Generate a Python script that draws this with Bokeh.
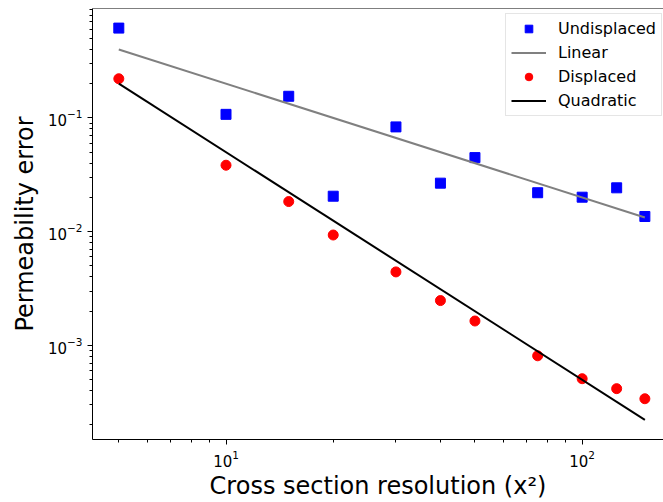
from bokeh.plotting import figure
from bokeh.models import Range1d, Span, Legend, LegendItem, FixedTicker, LogTickFormatter
from bokeh.embed import file_html
from bokeh.resources import INLINE

# Cross-section resolution (x^2) and permeability errors
resolution = [5, 10, 15, 20, 30, 40, 50, 75, 100, 125, 150]
undisplaced = [0.616, 0.1075, 0.155, 0.0205, 0.0834, 0.0267, 0.0448, 0.0220, 0.0201, 0.0243, 0.0136]
displaced = [0.221, 0.0384, 0.0184, 0.00935, 0.00443, 0.00248, 0.00164, 0.000811, 0.000510, 0.000417, 0.000340]

# Reference slopes (first and second order) at the ends of the resolution range
fit_x = [5, 150]
linear_fit = [0.40, 0.01333]
quadratic_fit = [0.20, 0.000222]

# Decade ticks and the 2..9 minor ticks between them
x_major = [10, 100]
x_minor = [5, 6, 7, 8, 9, 20, 30, 40, 50, 60, 70, 80, 90]
y_major = [1e-3, 1e-2, 1e-1]
y_minor = [m * d for d in (1e-4, 1e-3, 1e-2, 1e-1) for m in range(2, 10)]

FONT = "DejaVu Sans"

p = figure(
    width=663, height=502,
    x_axis_type="log", y_axis_type="log",
    x_range=Range1d(4.218, 169.2), y_range=Range1d(1.49e-4, 0.916),
    output_backend="svg", toolbar_location=None,
    min_border=0, min_border_left=92, min_border_top=8,
    min_border_bottom=63, min_border_right=0,
)
p.background_fill_color = "white"
p.border_fill_color = "white"
p.outline_line_color = None
p.grid.visible = False

# top spine
p.add_layout(Span(location=0.916, dimension="width", line_color="black", line_width=1))

r_und = p.scatter(resolution, undisplaced, marker="square", size=10,
                  fill_color="blue", line_color="blue")
r_lin = p.line(fit_x, linear_fit, line_color="grey", line_width=2)
r_dis = p.scatter(resolution, displaced, marker="circle", size=10,
                  fill_color="red", line_color="red")
r_quad = p.line(fit_x, quadratic_fit, line_color="black", line_width=2)

p.xaxis[0].ticker = FixedTicker(ticks=x_major, minor_ticks=x_minor)
p.yaxis[0].ticker = FixedTicker(ticks=y_major, minor_ticks=y_minor)

for ax in (p.xaxis[0], p.yaxis[0]):
    ax.formatter = LogTickFormatter()
    ax.axis_line_color = "black"
    ax.axis_line_width = 1
    ax.major_tick_in = 0
    ax.major_tick_out = 5
    ax.minor_tick_in = 0
    ax.minor_tick_out = 3
    ax.major_tick_line_color = "black"
    ax.minor_tick_line_color = "black"
    ax.major_label_text_font = FONT
    ax.major_label_text_font_size = "15px"
    ax.major_label_text_color = "black"
    ax.major_label_standoff = 5
    ax.axis_label_text_font = FONT
    ax.axis_label_text_font_size = "24px"
    ax.axis_label_text_font_style = "normal"
    ax.axis_label_text_color = "black"

p.xaxis.axis_label = "Cross section resolution (x\u00b2)"
p.yaxis.axis_label = "Permeability error"
p.xaxis.axis_label_standoff = 2
p.yaxis.axis_label_standoff = 6

legend = Legend(
    items=[
        LegendItem(label="Undisplaced", renderers=[r_und]),
        LegendItem(label="Linear", renderers=[r_lin]),
        LegendItem(label="Displaced", renderers=[r_dis]),
        LegendItem(label="Quadratic", renderers=[r_quad]),
    ],
    location=(413, 323),
    padding=5, spacing=5, margin=0,
    glyph_width=35, glyph_height=19, label_height=19,
    label_standoff=12,
    label_text_font=FONT, label_text_font_size="16px", label_text_color="black",
    border_line_color="#cccccc", border_line_width=1,
    background_fill_color="white", background_fill_alpha=0.8,
)
p.add_layout(legend, "center")

open("out.html", "w").write(file_html(p, INLINE))
